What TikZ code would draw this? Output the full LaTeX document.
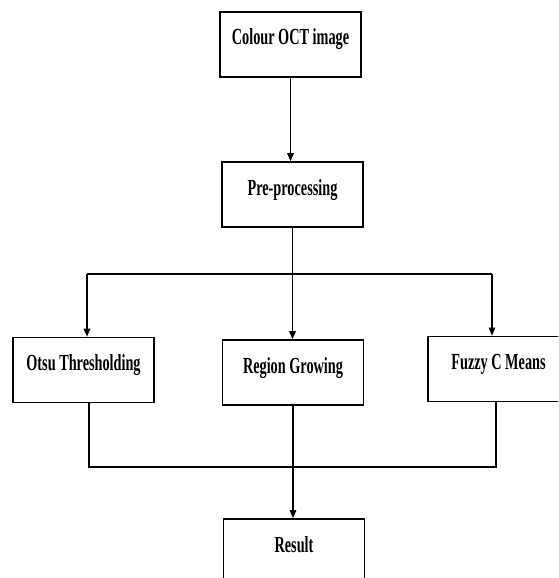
\documentclass[tikz,border=0pt]{standalone}
\usepackage{fontspec}
\newfontfamily\boxfont{Liberation Serif}[FakeStretch=0.62]
\usetikzlibrary{arrows.meta}

\tikzset{
  stage/.style={draw,rectangle,line width=1.6pt,minimum width=141pt,inner xsep=0pt,inner ysep=0pt,
    text height=33pt,text depth=32pt,font=\boxfont\bfseries\fontsize{23}{26}\selectfont},
  conn/.style={line width=1.4pt},
  arrow/.style={conn,-{Triangle[length=8pt,width=6.5pt]}}
}

\begin{document}
\begin{tikzpicture}[x=1pt,y=-1pt]
  \clip (0,0) rectangle (558,578);
  \node (img) at (290.5,44.5) [stage] {Colour OCT image};
  \node (pre) at (292.5,194.5) [stage] {Pre-processing};
  \node (otsu) at (83.5,370) [stage] {Otsu Thresholding};
  \node (rg) at (293,372.5) [stage] {Region Growing};
  \node (fcm) at (498.5,369) [stage] {Fuzzy C Means};
  \node (res) at (294,551.5) [stage] {Result};
  \coordinate (upL) at (87,274);
  \coordinate (upR) at (492,274);
  \coordinate (loL) at (89,467);
  \coordinate (loR) at (496,467);
  \draw[arrow] (img.south) -- (img.south |- pre.north);
  \draw[arrow] (pre.south) -- (pre.south |- rg.north);
  \draw[conn] (upL) -- (upR);
  \draw[arrow] (upL) -- (upL |- otsu.north);
  \draw[arrow] (upR) -- (upR |- fcm.north);
  \draw[conn] (loL |- otsu.south) -- (loL) -- (loR) -- (loR |- fcm.south);
  \draw[arrow] (rg.south) -- (rg.south |- res.north);
\end{tikzpicture}
\end{document}
